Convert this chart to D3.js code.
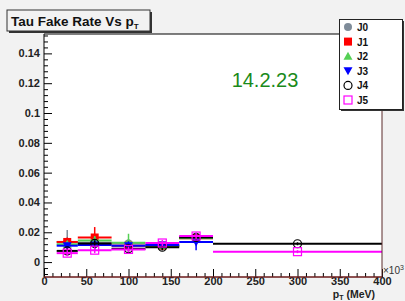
<!DOCTYPE html>
<html>
<head>
<meta charset="utf-8">
<script src="https://cdn.jsdelivr.net/npm/d3@7"></script>
<style>
  body{margin:0;background:#f2f2f2;}
  svg{display:block;font-family:"Liberation Sans",Arial,sans-serif;}
</style>
</head>
<body>
<script>
// bins in pT (x10^3 MeV)
const binEdges = [15, 40, 80, 120, 160, 200, 400]
const seriesNames = ["J0", "J1", "J2", "J3", "J4", "J5"]
const J0 = [0.0135, 0.013, 0.0125, 0.011, 0.017, null]
const J1 = [0.0135, 0.0165, 0.011, 0.011, 0.016, null]
const J2 = [0.012, 0.0145, 0.013, 0.011, 0.016, null]
const J3 = [0.011, 0.0115, 0.011, 0.0115, 0.0135, null]
const J4 = [0.0075, 0.0125, 0.009, 0.010, 0.0165, 0.0123]
const J5 = [0.006, 0.008, 0.0085, 0.0128, 0.0175, 0.007]
const J0err = [0.008, 0.003, 0.003, 0.002, 0.003, 0]
const J1err = [0.003, 0.007, 0.002, 0.002, 0.002, 0]
const J2err = [0.002, 0.003, 0.006, 0.002, 0.002, 0]
const J3err = [0.002, 0.004, 0.003, 0.002, 0.0055, 0]
const J4err = [0.002, 0.002, 0.002, 0.002, 0.002, 0.001]
const J5err = [0.002, 0.002, 0.002, 0.002, 0.002, 0.001]
const xTicks = [0, 50, 100, 150, 200, 250, 300, 350, 400]
const yTicks = [0, 0.02, 0.04, 0.06, 0.08, 0.1, 0.12, 0.14]

const values = [J0, J1, J2, J3, J4, J5]
const errors = [J0err, J1err, J2err, J3err, J4err, J5err]
const colors = ["#7f8c99", "#ff0000", "#55d055", "#0000ff", "#000000", "#ff00ff"]
const shapes = ["circle", "square", "triUp", "triDown", "openCircle", "openSquare"]

const W = 405, H = 301
const mLeft = 44, mRight = 382, mTop = 34, mBottom = 277

const svg = d3.select("body").append("svg").attr("width", W).attr("height", H)
svg.append("rect").attr("width", W).attr("height", H).attr("fill", "#f2f2f2")

const x = d3.scaleLinear().domain([0, 400]).range([mLeft, mRight])
const y = d3.scaleLinear().domain([-0.01, 0.153]).range([mBottom, mTop])

svg.append("rect").attr("x", mLeft).attr("y", mTop).attr("width", mRight - mLeft).attr("height", mBottom - mTop)
  .attr("fill", "white")

// data
const plot = svg.append("g")
values.forEach((vals, s) => {
  const g = plot.append("g")
  const col = colors[s]
  vals.forEach((v, i) => {
    if (v === null) return
    const x0 = x(binEdges[i]), x1 = x(binEdges[i + 1]), xc = x((binEdges[i] + binEdges[i + 1]) / 2)
    g.append("line").attr("x1", x0).attr("x2", x1).attr("y1", y(v)).attr("y2", y(v))
      .attr("stroke", col).attr("stroke-width", 2)
    const e = errors[s][i]
    if (e > 0) {
      g.append("line").attr("x1", xc).attr("x2", xc).attr("y1", y(v - e)).attr("y2", y(v + e))
        .attr("stroke", col).attr("stroke-width", 1.5)
    }
    drawMarker(g, shapes[s], xc, y(v), col)
  })
})

function drawMarker(g, shape, cx, cy, col) {
  if (shape === "circle") {
    g.append("circle").attr("cx", cx).attr("cy", cy).attr("r", 4).attr("fill", col)
  } else if (shape === "square") {
    g.append("rect").attr("x", cx - 4).attr("y", cy - 4).attr("width", 8).attr("height", 8).attr("fill", col)
  } else if (shape === "triUp") {
    g.append("path").attr("d", `M${cx},${cy - 4.5}L${cx + 4.5},${cy + 3.5}L${cx - 4.5},${cy + 3.5}Z`).attr("fill", col)
  } else if (shape === "triDown") {
    g.append("path").attr("d", `M${cx},${cy + 4.5}L${cx + 4.5},${cy - 3.5}L${cx - 4.5},${cy - 3.5}Z`).attr("fill", col)
  } else if (shape === "openCircle") {
    g.append("circle").attr("cx", cx).attr("cy", cy).attr("r", 4).attr("fill", "none").attr("stroke", col).attr("stroke-width", 1.2)
  } else {
    g.append("rect").attr("x", cx - 4).attr("y", cy - 4).attr("width", 8).attr("height", 8)
      .attr("fill", "none").attr("stroke", col).attr("stroke-width", 1.2)
  }
}

// axes
const xAxis = d3.axisBottom(x).tickValues(xTicks).tickSize(-8).tickFormat(d3.format("d"))
const gx = svg.append("g").attr("transform", `translate(0,${mBottom})`).call(xAxis)
gx.select(".domain").remove()
gx.selectAll("text").attr("dy", 0).attr("y", 8).attr("font-weight", "bold").attr("font-size", 11).attr("fill", "#222")
svg.append("g").attr("transform", `translate(0,${mBottom})`)
  .call(d3.axisBottom(x).tickValues(d3.range(0, 401, 10).filter(d => d % 50)).tickSize(-4).tickFormat(""))
  .select(".domain").remove()

const yAxis = d3.axisLeft(y).tickValues(yTicks).tickSize(-8).tickFormat(d => d === 0 ? "0" : d3.format(".2~f")(d))
const gy = svg.append("g").attr("transform", `translate(${mLeft},0)`).call(yAxis)
gy.select(".domain").remove()
gy.selectAll("text").attr("x", -4).attr("font-weight", "bold").attr("font-size", 11).attr("fill", "#222")
svg.append("g").attr("transform", `translate(${mLeft},0)`)
  .call(d3.axisLeft(y).tickValues(d3.range(-0.008, 0.153, 0.004).filter(d => Math.abs(Math.round(d * 50) - d * 50) > 0.01)).tickSize(-4).tickFormat(""))
  .select(".domain").remove()

// frame
svg.append("line").attr("x1", mLeft).attr("x2", mRight).attr("y1", mTop).attr("y2", mTop).attr("stroke", "black")
svg.append("line").attr("x1", mLeft).attr("x2", mLeft).attr("y1", mTop).attr("y2", mBottom).attr("stroke", "black")
svg.append("line").attr("x1", mRight).attr("x2", mRight).attr("y1", mTop).attr("y2", mBottom).attr("stroke", "#5a2a2a")
svg.append("line").attr("x1", mLeft).attr("x2", mRight).attr("y1", mBottom).attr("y2", mBottom).attr("stroke", "#6a1a1a").attr("stroke-width", 1.5)

svg.append("text").attr("x", mRight + 1).attr("y", 274).attr("font-size", 10).attr("fill", "#333").text("×10")
  .append("tspan").attr("font-size", 7).attr("dy", -4).text("3")
const xt = svg.append("text").attr("x", 375).attr("y", 298).attr("text-anchor", "end")
  .attr("font-size", 10.5).attr("font-weight", "bold").attr("fill", "#222")
xt.append("tspan").text("p")
xt.append("tspan").attr("font-size", 7).attr("dy", 1.5).text("T")
xt.append("tspan").attr("dy", -1.5).text(" (MeV)")

// version label
svg.append("text").attr("x", 265).attr("y", 87).attr("text-anchor", "middle").attr("font-size", 20)
  .attr("fill", "#1a8a1a").text("14.2.23")

// title box
svg.append("rect").attr("x", 9).attr("y", 12).attr("width", 143).attr("height", 21).attr("fill", "#333")
svg.append("rect").attr("x", 7).attr("y", 10).attr("width", 143).attr("height", 21).attr("fill", "#f2f2f2").attr("stroke", "#333")
const tt = svg.append("text").attr("x", 11).attr("y", 26).attr("font-size", 13.5).attr("font-weight", "bold").attr("fill", "#111")
tt.append("tspan").text("Tau Fake Rate Vs p")
tt.append("tspan").attr("font-size", 8).attr("dy", 3).text("T")

// legend
svg.append("rect").attr("x", 341).attr("y", 21).attr("width", 63).attr("height", 90).attr("fill", "#333")
svg.append("rect").attr("x", 339.5).attr("y", 19.5).attr("width", 63).attr("height", 90).attr("fill", "white").attr("stroke", "#222")
seriesNames.forEach((name, s) => {
  const ly = 27 + s * 14.6
  const lg = svg.append("g")
  drawMarker(lg, shapes[s], 348, ly, colors[s])
  lg.append("text").attr("x", 357).attr("y", ly + 4).attr("font-size", 10).attr("font-weight", "bold").attr("fill", "#111").text(name)
})
</script>
</body>
</html>
